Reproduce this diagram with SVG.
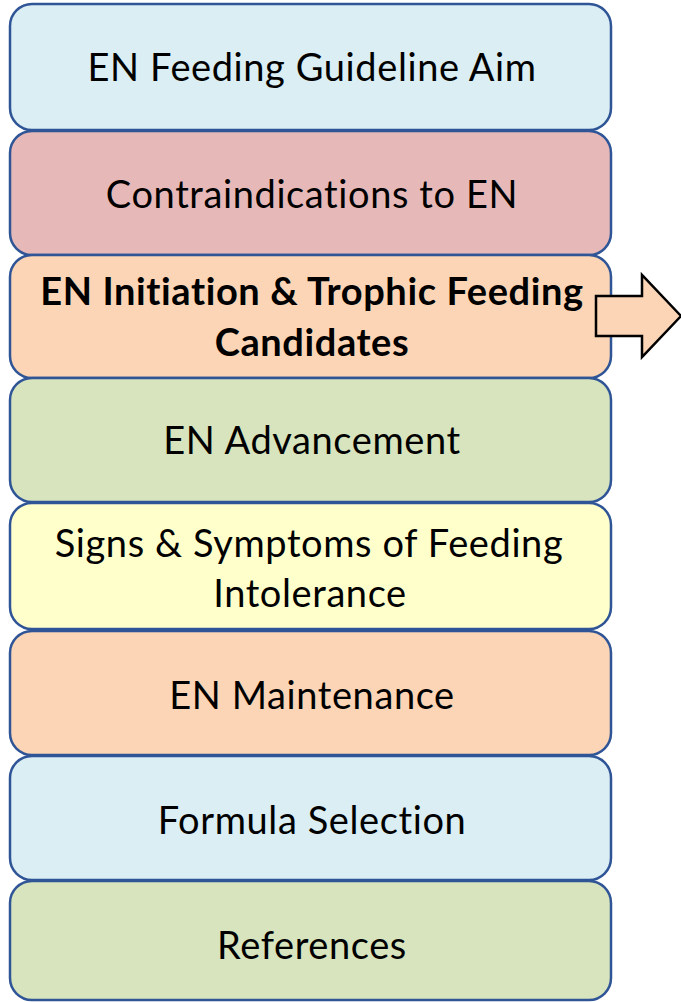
<svg xmlns="http://www.w3.org/2000/svg" width="681" height="1002" viewBox="0 0 681 1002">
<style>
.box{stroke:#2F5597;stroke-width:2.5}
.t{font-family:Lato,"Open Sans","Liberation Sans",sans-serif;font-size:38px;letter-spacing:0.6px;fill:#000;text-anchor:middle}
.b{font-weight:bold}
.blue{fill:#DAEEF3}.red{fill:#E6B9B8}.peach{fill:#FBD5B5}.green{fill:#D7E4BD}.yellow{fill:#FFFFCC}
</style>
<rect width="681" height="1002" fill="#fff"/>
<g id="n1"><rect class="box blue" x="10" y="4" width="601" height="126" rx="22"/><text class="t" x="312" y="81">EN Feeding Guideline Aim</text></g>
<g id="n2"><rect class="box red" x="10" y="131" width="601" height="124" rx="22"/><text class="t" x="312" y="208">Contraindications to EN</text></g>
<g id="n3"><rect class="box peach" x="10" y="255" width="601" height="123" rx="22"/><text class="t b" x="312" y="305">EN Initiation &amp; Trophic Feeding</text><text class="t b" x="312" y="356">Candidates</text></g>
<g id="n4"><rect class="box green" x="10" y="378" width="601" height="124" rx="22"/><text class="t" x="312" y="454">EN Advancement</text></g>
<g id="n5"><rect class="box yellow" x="10" y="503" width="601" height="126" rx="22"/><text class="t" x="309" y="557">Signs &amp; Symptoms of Feeding</text><text class="t" x="310" y="607">Intolerance</text></g>
<g id="n6"><rect class="box peach" x="10" y="631" width="601" height="124" rx="22"/><text class="t" x="312" y="709">EN Maintenance</text></g>
<g id="n7"><rect class="box blue" x="10" y="756" width="601" height="124" rx="22"/><text class="t" x="312" y="834">Formula Selection</text></g>
<g id="n8"><rect class="box green" x="10" y="881" width="601" height="119" rx="22"/><text class="t" x="312" y="959">References</text></g>
<g id="connectors"><path d="M596,296 H642 V275 L681,316 L642,357 V336 H596 Z" fill="#FBD5B5" stroke="#000" stroke-width="2.5" stroke-linejoin="miter"/></g>
</svg>
